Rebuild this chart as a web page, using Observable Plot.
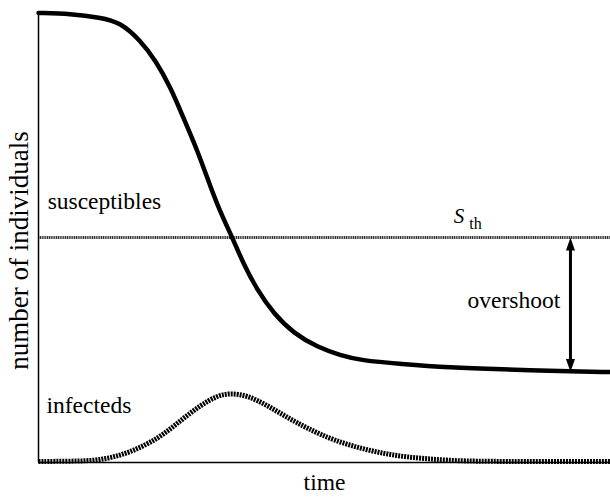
<!DOCTYPE html>
<html>
<head>
<meta charset="utf-8">
<script src="https://cdn.jsdelivr.net/npm/d3@7"></script>
<script src="https://cdn.jsdelivr.net/npm/@observablehq/plot@0.6"></script>
<style>
  html, body { margin: 0; padding: 0; background: #fff; }
  svg { display: block; }
  svg text { font-family: "Liberation Serif", "Times New Roman", Times, serif; }
</style>
</head>
<body>
<div id="chart"></div>
<script>
// Susceptibles curve (time, number) in arbitrary units 0..100
const sTime = [0, 5.6, 10.8, 14.3, 17.8, 20.5, 23.1, 25.3, 27.8, 30.1, 32.2, 33.9, 35.8, 38.3, 41.1, 44.6, 48.8, 52.8, 56.3, 63.3, 72.0, 80.8, 91.3, 100];
const sValue = [99.9, 99.7, 98.9, 97.8, 93.8, 89.3, 83.3, 76.7, 69.3, 61.1, 54.4, 50.0, 44.2, 38.2, 33.1, 28.7, 25.6, 23.8, 22.7, 21.9, 21.1, 20.7, 20.3, 20.1];

// Infecteds curve
const iTime = [0, 5.6, 10.8, 16.1, 21.3, 24.8, 28.3, 31.3, 33.6, 36.5, 40.0, 43.5, 47.0, 51.6, 57.5, 63.3, 69.1, 73.8, 84.3, 100];
const iValue = [0.2, 0.3, 0.4, 2.2, 5.6, 9.3, 12.7, 14.9, 15.4, 14.9, 12.7, 10.0, 7.6, 4.9, 2.7, 1.3, 0.7, 0.3, 0.2, 0.2];

// Threshold and overshoot
const threshold = 50;
const finalSize = 20.1;
const overshootTime = 93;

// Annotation labels
const labelText = ["susceptibles", "infecteds", "overshoot"];
const labelTime = [1.6, 1.4, 75.0];
const labelValue = [56.4, 10.9, 34.4];

const S = sTime.map((t, i) => ({t, v: sValue[i]}));
const I = iTime.map((t, i) => ({t, v: iValue[i]}));
const labels = labelText.map((text, i) => ({text, t: labelTime[i], v: labelValue[i]}));

const headUp = {draw(ctx) { ctx.moveTo(0, 0); ctx.lineTo(4.5, 13); ctx.lineTo(-4.5, 13); ctx.closePath(); }};
const headDown = {draw(ctx) { ctx.moveTo(0, 0); ctx.lineTo(4.5, -13); ctx.lineTo(-4.5, -13); ctx.closePath(); }};

const font = "Liberation Serif";

const chart = Plot.plot({
  width: 610,
  height: 502,
  marginLeft: 38,
  marginRight: 0,
  marginTop: 12,
  marginBottom: 40,
  style: {background: "#fff", color: "#000"},
  x: {domain: [0, 100], axis: null},
  y: {domain: [0, 100], axis: null},
  marks: [
    Plot.ruleY([threshold], {stroke: "#333", strokeWidth: 3, strokeDasharray: "1.2,0.6", strokeLinecap: "butt"}),
    Plot.line(I, {x: "t", y: "v", curve: "basis", stroke: "#000", strokeWidth: 5, strokeDasharray: "2,1", strokeLinecap: "butt"}),
    Plot.line(S, {x: "t", y: "v", curve: "basis", stroke: "#000", strokeWidth: 4.5}),
    Plot.ruleX([overshootTime], {y1: threshold - 2.5, y2: finalSize + 2.5, stroke: "#000", strokeWidth: 3}),
    Plot.dot([{t: overshootTime, v: threshold}], {x: "t", y: "v", symbol: headUp, fill: "#000", stroke: "none"}),
    Plot.dot([{t: overshootTime, v: finalSize}], {x: "t", y: "v", symbol: headDown, fill: "#000", stroke: "none"}),
    Plot.ruleX([0], {stroke: "#000", strokeWidth: 1.5}),
    Plot.ruleY([0], {stroke: "#000", strokeWidth: 1.5}),
    Plot.text(labels, {x: "t", y: "v", text: "text", textAnchor: "start", lineAnchor: "bottom", fontSize: 23.5, fontFamily: font, fill: "#000"}),
    Plot.text(["S"], {x: 72.6, y: 53.3, textAnchor: "start", lineAnchor: "bottom", fontSize: 21, fontStyle: "italic", fontFamily: font, fill: "#000"}),
    Plot.text(["th"], {x: 75.3, y: 52.0, textAnchor: "start", lineAnchor: "bottom", fontSize: 16, fontFamily: font, fill: "#000"}),
    Plot.text(["number of individuals"], {frameAnchor: "left", textAnchor: "middle", rotate: -90, dx: -19, dy: 13, fontSize: 27, fontFamily: font, fill: "#000"}),
    Plot.text(["time"], {frameAnchor: "bottom", textAnchor: "middle", dy: 27, fontSize: 23.5, fontFamily: font, fill: "#000"})
  ]
});
document.getElementById("chart").appendChild(chart);
</script>
</body>
</html>
